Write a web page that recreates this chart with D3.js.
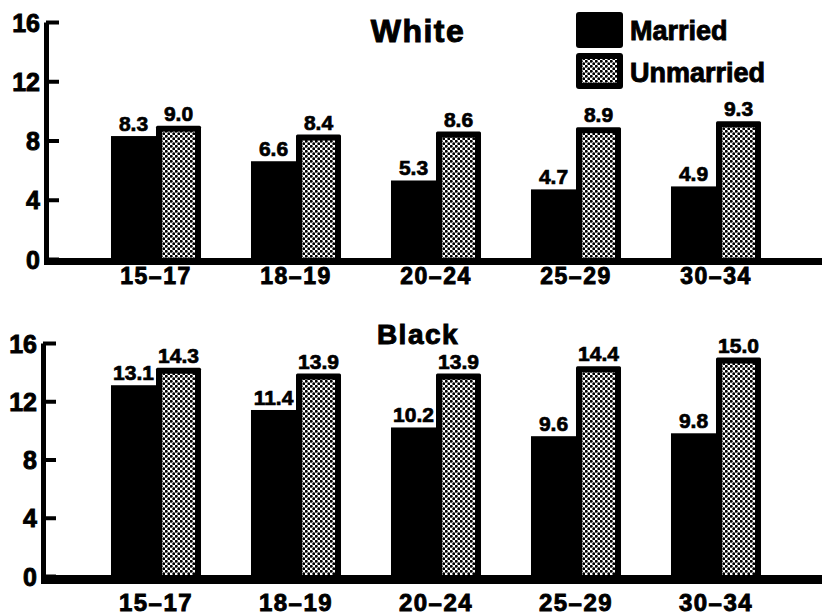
<!DOCTYPE html>
<html><head><meta charset="utf-8">
<script src="https://cdn.jsdelivr.net/npm/d3@7"></script>
<style>body{margin:0;background:#fff}svg{display:block}text{font-family:"Liberation Sans",Arial,sans-serif;font-weight:bold;fill:#000;stroke:#000;stroke-width:0.7px}</style>
</head><body><svg id="c" width="822" height="616"></svg>
<script>
const categories = ["15–17","18–19","20–24","25–29","30–34"];
const series = ["Married","Unmarried"];
const whiteMarried = [8.3,6.6,5.3,4.7,4.9];
const whiteUnmarried = [9.0,8.4,8.6,8.9,9.3];
const blackMarried = [13.1,11.4,10.2,9.6,9.8];
const blackUnmarried = [14.3,13.9,13.9,14.4,15.0];
const yTicks = [0,4,8,12,16];
const titles = ["White","Black"];

const svg = d3.select("#c");
const defs = svg.append("defs");
const pat = defs.append("pattern").attr("id","dots").attr("patternUnits","userSpaceOnUse")
  .attr("width",5).attr("height",5);
pat.append("rect").attr("width",5).attr("height",5).attr("fill","#fff");
pat.append("circle").attr("cx",1.25).attr("cy",1.25).attr("r",1.45).attr("fill","#000");
pat.append("circle").attr("cx",3.75).attr("cy",3.75).attr("r",1.45).attr("fill","#000");

const x = d3.scaleBand().domain(categories).range([86,786]).paddingInner(0.357).paddingOuter(0.1785);
const x1 = d3.scaleBand().domain(series).range([0,x.bandwidth()]);

const panels = [
  {title:titles[0], m:whiteMarried, u:whiteUnmarried, y0:259, y1:22, ax:46, baseTop:258, baseH:7, labelY:284, labelSize:23, titleY:42, titleSize:32},
  {title:titles[1], m:blackMarried, u:blackUnmarried, y0:576, y1:343, ax:43, baseTop:575, baseH:9, labelY:611, labelSize:24, titleY:344, titleSize:28}
];

panels.forEach(p => {
  const y = d3.scaleLinear().domain([0,16]).range([p.y0,p.y1]);
  const g = svg.append("g");
  g.append("text").attr("x",418).attr("y",p.titleY).attr("text-anchor","middle")
    .attr("font-size",p.titleSize).attr("letter-spacing",1.5).style("stroke-width","1px").text(p.title);
  categories.forEach((c,i) => {
    const gx = x(c);
    const mv = p.m[i], uv = p.u[i];
    const mx = gx + x1("Married"), ux = gx + x1("Unmarried"), bw = x1.bandwidth();
    g.append("rect").attr("x",mx).attr("y",y(mv)).attr("width",bw).attr("height",y(0)-y(mv)).attr("fill","#000");
    g.append("rect").attr("x",ux).attr("y",y(uv)).attr("width",bw).attr("height",y(0)-y(uv)).attr("fill","#000").attr("rx",1.5);
    g.append("rect").attr("x",ux+6).attr("y",y(uv)+6).attr("width",bw-12).attr("height",y(0)-y(uv)-6).attr("fill","url(#dots)");
    g.append("text").attr("x",mx+bw/2).attr("y",y(mv)-5).attr("text-anchor","middle").attr("font-size",21).text(mv.toFixed(1));
    g.append("text").attr("x",ux+bw/2).attr("y",y(uv)-5).attr("text-anchor","middle").attr("font-size",21).text(uv.toFixed(1));
    g.append("text").attr("x",gx+x.bandwidth()/2).attr("y",p.labelY).attr("text-anchor","middle")
      .attr("font-size",p.labelSize).attr("letter-spacing",1.5).style("stroke-width","0.9px").text(c);
  });
  g.append("rect").attr("x",p.ax-2).attr("y",p.baseTop).attr("width",822-p.ax+2).attr("height",p.baseH).attr("fill","#000");
  const axis = d3.axisLeft(y).tickValues(yTicks).tickSizeInner(-13).tickSizeOuter(0).tickPadding(6).tickFormat(d3.format("d"));
  const ag = g.append("g").attr("transform",`translate(${p.ax},0)`).call(axis);
  ag.attr("font-family",null).attr("font-size",null);
  ag.select(".domain").attr("stroke","#000").attr("stroke-width",5);
  ag.selectAll(".tick line").attr("stroke","#000").attr("stroke-width",4);
  ag.selectAll(".tick text").attr("font-size",25).attr("fill","#000").attr("dy","0.36em").style("stroke-width","0.9px");
});

const lg = svg.append("g");
lg.append("rect").attr("x",576).attr("y",12).attr("width",47).attr("height",36).attr("rx",3).attr("fill","#000");
lg.append("rect").attr("x",576).attr("y",53).attr("width",47).attr("height",36).attr("rx",3).attr("fill","#000");
lg.append("rect").attr("x",582).attr("y",59).attr("width",35).attr("height",24).attr("fill","url(#dots)");
lg.append("text").attr("x",630).attr("y",40).attr("font-size",27).style("stroke-width","0.9px").text(series[0]);
lg.append("text").attr("x",630).attr("y",82).attr("font-size",27).style("stroke-width","0.9px").text(series[1]);
</script></body></html>
